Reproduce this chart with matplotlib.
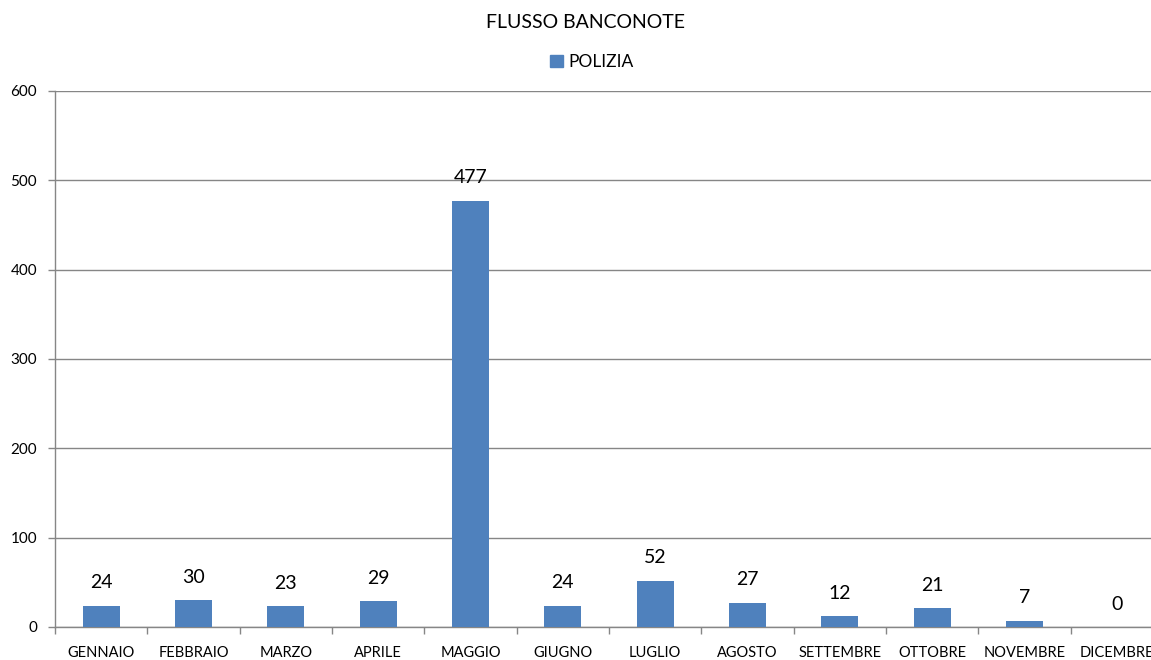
import matplotlib
matplotlib.use("Agg")
import matplotlib.pyplot as plt
import numpy as np
from matplotlib.patches import Patch

months = ["GENNAIO", "FEBBRAIO", "MARZO", "APRILE", "MAGGIO", "GIUGNO",
          "LUGLIO", "AGOSTO", "SETTEMBRE", "OTTOBRE", "NOVEMBRE", "DICEMBRE"]
polizia = [24, 30, 23, 29, 477, 24, 52, 27, 12, 21, 7, 0]
yticks = [0, 100, 200, 300, 400, 500, 600]

plt.rcParams['font.family'] = ['Lato', 'DejaVu Sans']

fig = plt.figure(figsize=(11.51, 6.60), dpi=100)
ax = fig.add_axes([55/1151, 33/660, 1108/1151, 536/660])

x = np.arange(len(months))
color = '#4F81BD'
grey = '#868686'
ax.bar(x, polizia, width=0.4, color=color, zorder=3)
for xi, v in zip(x, polizia):
    ax.annotate(str(v), (xi, v), xytext=(0, 16.5), textcoords='offset points',
                ha='center', va='center', fontsize=14, color='#000000', zorder=4)

ax.set_xlim(-0.5, len(months) - 0.5)
ax.set_ylim(0, 600)
ax.set_yticks(yticks)
ax.set_yticklabels([str(t) for t in yticks], fontsize=11)
ax.set_xticks(x)
ax.set_xticklabels(months, fontsize=10.5)
ax.tick_params(axis='x', which='major', length=0, pad=14)
ax.set_xticks(np.arange(-0.5, len(months)), minor=True)
ax.tick_params(axis='x', which='minor', length=5, color=grey, width=1)
ax.tick_params(axis='y', length=5, color=grey, width=1, pad=8)

ax.grid(axis='y', color=grey, linewidth=1, zorder=0)
for s in ['top', 'right']:
    ax.spines[s].set_visible(False)
for s in ['left', 'bottom']:
    ax.spines[s].set_color(grey)
    ax.spines[s].set_linewidth(1)

fig.text(585/1151, 1 - 22/660, "FLUSSO BANCONOTE", ha='center', va='center', fontsize=14)
fig.legend(handles=[Patch(color=color, label='POLIZIA')], loc='center',
           bbox_to_anchor=(592/1151, 1 - 62/660), frameon=False, fontsize=12.5,
           handlelength=0.75, handleheight=0.75, handletextpad=0.3)

fig.savefig("out.png", dpi=100)
